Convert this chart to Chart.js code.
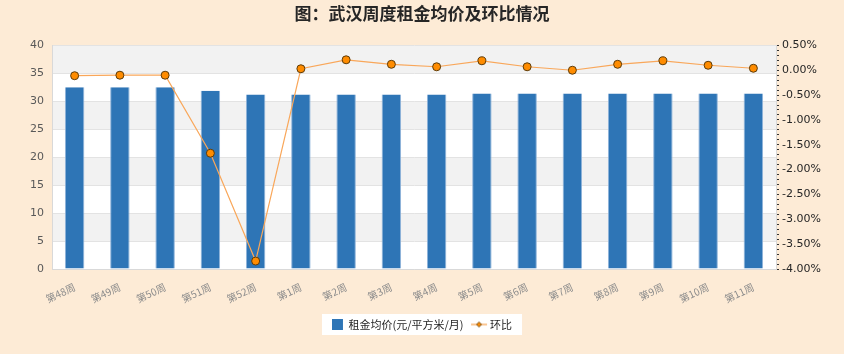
<!DOCTYPE html>
<html>
<head>
<meta charset="utf-8">
<script src="https://cdn.jsdelivr.net/npm/chart.js@4.4.1/dist/chart.umd.min.js"></script>
<style>
  html, body { margin: 0; padding: 0; background: #fdebd6; }
  #wrap { width: 844px; height: 354px; }
</style>
</head>
<body>
<div id="wrap"><canvas id="rentChart" width="844" height="354"></canvas></div>
<script>
// categories and values
const weeks = ['第48周', '第49周', '第50周', '第51周', '第52周', '第1周', '第2周', '第3周',
    '第4周', '第5周', '第6周', '第7周', '第8周', '第9周', '第10周', '第11周'];
const rentAvg = [32.5, 32.5, 32.5, 31.9, 31.2, 31.2, 31.2, 31.2, 31.2, 31.4, 31.4, 31.4, 31.4, 31.4, 31.4, 31.4];
const momPct = [-0.11, -0.10, -0.10, -1.67, -3.84, 0.03, 0.21, 0.12, 0.07, 0.19, 0.07, 0.00, 0.12, 0.19, 0.10, 0.04];
const leftTicks = { min: 0, max: 40, step: 5 };
const rightTicks = { min: -4, max: 0.5, step: 0.1, labelEvery: 0.5 };

const numFont = "'DejaVu Sans', 'Noto Sans CJK SC', sans-serif";
const cjkFont = "'Noto Sans CJK SC', 'DejaVu Sans', sans-serif";

// small marker used in the legend for the line series
function lineLegendIcon() {
    let c = document.createElement('canvas');
    c.width = 18;
    c.height = 8;
    let g = c.getContext('2d');
    g.strokeStyle = '#f7a04b';
    g.lineWidth = 1.2;
    g.beginPath();
    g.moveTo(1, 4);
    g.lineTo(17, 4);
    g.stroke();
    g.fillStyle = '#ff8c00';
    g.strokeStyle = '#5c3b0a';
    g.lineWidth = 0.8;
    g.beginPath();
    g.moveTo(9, 1.5);
    g.lineTo(11.5, 4);
    g.lineTo(9, 6.5);
    g.lineTo(6.5, 4);
    g.closePath();
    g.fill();
    g.stroke();
    return c;
}
const lineIcon = lineLegendIcon();

// alternating grey bands in the plot area + white box behind the legend
const backdrop = {
    id: 'backdrop',
    beforeDraw(chart) {
        const ctx = chart.ctx;
        const a = chart.chartArea;
        const y = chart.scales.y;
        ctx.save();
        ctx.fillStyle = '#ffffff';
        ctx.fillRect(a.left, a.top, a.right - a.left, a.bottom - a.top);
        ctx.fillStyle = '#f2f2f2';
        for (let v = leftTicks.max; v > leftTicks.min; v -= leftTicks.step * 2) {
            let top = y.getPixelForValue(v);
            let bottom = y.getPixelForValue(v - leftTicks.step);
            ctx.fillRect(a.left, top, a.right - a.left, bottom - top);
        }
        // legend background
        const boxes = chart.legend.legendHitBoxes;
        if (boxes && boxes.length) {
            let l = Math.min(...boxes.map(b => b.left));
            let r = Math.max(...boxes.map(b => b.left + b.width));
            let t = Math.min(...boxes.map(b => b.top));
            let h = Math.max(...boxes.map(b => b.height));
            ctx.fillStyle = '#ffffff';
            ctx.fillRect(l - 10, t - 5, r - l + 20, h + 10);
        }
        ctx.restore();
    }
};

const ctx = document.getElementById('rentChart').getContext('2d');
const rentChart = new Chart(ctx, {
    data: {
        labels: weeks,
        datasets: [
            {
                type: 'line',
                label: '环比',
                data: momPct,
                yAxisID: 'y2',
                borderColor: '#f9a75a',
                borderWidth: 1.2,
                pointRadius: 4,
                pointBackgroundColor: '#ff8c00',
                pointBorderColor: '#5c3b0a',
                pointBorderWidth: 1,
                tension: 0,
                order: 0
            },
            {
                type: 'bar',
                label: '租金均价(元/平方米/月)',
                data: rentAvg,
                yAxisID: 'y',
                backgroundColor: '#2e75b6',
                borderColor: '#8fb3da',
                borderWidth: { left: 1, right: 1, top: 0, bottom: 0 },
                categoryPercentage: 1,
                barPercentage: 0.43,
                order: 1
            }
        ]
    },
    options: {
        responsive: false,
        animation: false,
        layout: { padding: { left: 0, right: 0, top: 0, bottom: 14 } },
        plugins: {
            title: {
                display: true,
                text: '图：武汉周度租金均价及环比情况',
                color: '#262626',
                font: { family: cjkFont, size: 17, weight: 'bold' },
                padding: { top: 3, bottom: 22 }
            },
            legend: {
                position: 'bottom',
                labels: {
                    color: '#262626',
                    font: { family: cjkFont, size: 11 },
                    usePointStyle: true,
                    padding: 10,
                    generateLabels(chart) {
                        let items = Chart.defaults.plugins.legend.labels.generateLabels(chart);
                        items.forEach(item => {
                            if (item.datasetIndex === 0) {
                                item.pointStyle = lineIcon;
                            } else {
                                item.pointStyle = 'rect';
                                item.lineWidth = 0;
                            }
                        });
                        // bar series first, as in the picture
                        return items.reverse();
                    }
                }
            },
            tooltip: { enabled: false }
        },
        scales: {
            x: {
                grid: { display: false },
                border: { color: '#d9d9d9' },
                ticks: {
                    color: '#8c8c8c',
                    font: { family: cjkFont, size: 10 },
                    maxRotation: 25,
                    minRotation: 25,
                    padding: 4
                },
                afterFit(scale) { scale.height = 40; }
            },
            y: {
                position: 'left',
                min: leftTicks.min,
                max: leftTicks.max,
                ticks: {
                    stepSize: leftTicks.step,
                    color: '#595959',
                    font: { family: numFont, size: 11 },
                    padding: 8
                },
                grid: { color: '#e3e3e3', drawTicks: false },
                border: { color: '#d9d9d9' },
                afterFit(scale) { scale.width = 52; }
            },
            y2: {
                position: 'right',
                min: rightTicks.min,
                max: rightTicks.max,
                ticks: {
                    stepSize: rightTicks.step,
                    autoSkip: false,
                    color: '#262626',
                    font: { family: numFont, size: 11 },
                    padding: 3,
                    callback(v) {
                        let r = Math.round(v * 100);
                        if (r % Math.round(rightTicks.labelEvery * 100) === 0) {
                            return (r / 100).toFixed(2) + '%';
                        }
                        return '';
                    }
                },
                grid: {
                    drawOnChartArea: false,
                    drawTicks: true,
                    tickLength: 3,
                    tickColor: '#333333',
                    color: '#333333'
                },
                border: { color: '#d9d9d9' },
                afterFit(scale) { scale.width = 68; }
            }
        }
    },
    plugins: [backdrop]
});
</script>
</body>
</html>
